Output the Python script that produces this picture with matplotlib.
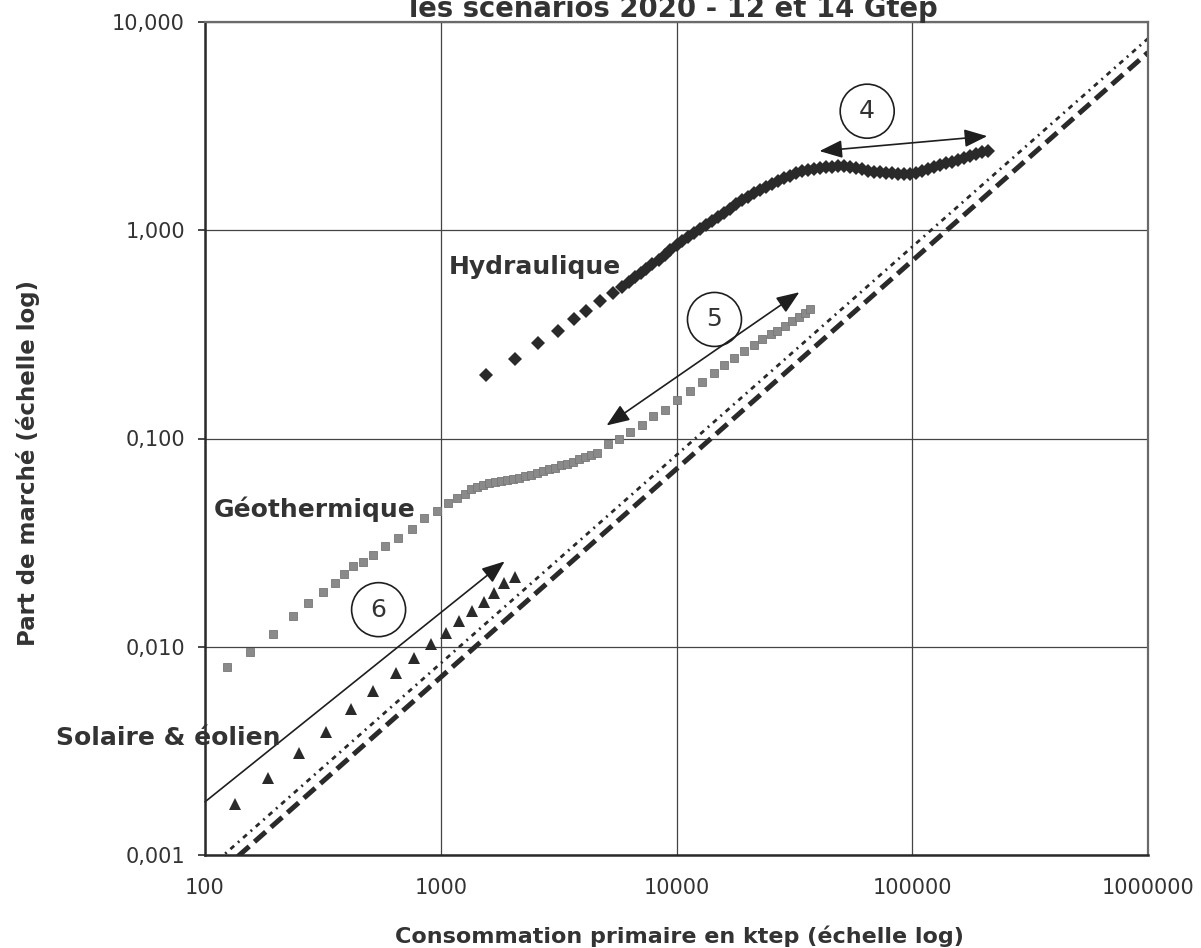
import numpy as np
import matplotlib
matplotlib.use("Agg")
import matplotlib.pyplot as plt
from matplotlib.patches import FancyArrowPatch

# ---------------- data ----------------
hydro_x = [1550, 2060, 2580, 3130, 3660, 4120, 4760, 5360, 5850,
           6260, 6640, 7040, 7460, 7910, 8390, 8900, 9430, 10000, 10600,
           11240, 11920, 12640, 13400, 14210, 15070, 15970, 16930, 17950, 19040,
           20190, 21400, 22690, 24070, 25520, 27050, 28680, 30420, 32250, 34190,
           36250, 38430, 40760, 43210, 45810, 48570, 51530, 54620, 57910, 61400,
           65130, 69020, 73180, 77590, 82300, 87250, 92500, 98060, 103970, 110250,
           116880, 123920, 131380, 139340, 147720, 156610, 166030, 176110, 186700,
           197940, 209880]
hydro_y = [0.201, 0.240, 0.286, 0.327, 0.373, 0.408, 0.456, 0.498, 0.532,
           0.562, 0.594, 0.621, 0.650, 0.686, 0.718, 0.758, 0.801, 0.847, 0.885,
           0.925, 0.967, 1.011, 1.057, 1.105, 1.155, 1.207, 1.262, 1.334, 1.394,
           1.441, 1.506, 1.557, 1.609, 1.664, 1.720, 1.778, 1.818, 1.879, 1.922,
           1.943, 1.965, 1.987, 2.009, 2.009, 2.031, 2.031, 2.009, 1.987, 1.965,
           1.922, 1.900, 1.900, 1.879, 1.879, 1.858, 1.858, 1.858, 1.879, 1.922,
           1.965, 2.009, 2.054, 2.100, 2.123, 2.170, 2.219, 2.269, 2.320,
           2.371, 2.398]

geo_x = [124, 155, 194, 236, 273, 316, 356, 388, 424, 467, 515, 579, 657, 754,
         847, 962, 1071, 1169, 1265,
         1340, 1421, 1507, 1598, 1693, 1796, 1904, 2019, 2141, 2269, 2407, 2552,
         2705, 2868, 3042, 3225, 3419, 3625, 3843, 4075, 4321, 4581,
         5101, 5679, 6323, 7107, 7913, 8897, 10000, 11354, 12887, 14488, 15973,
         17614, 19417, 21402, 23138, 25261, 26792, 28968, 31007, 33208, 35218, 36979]
geo_y = [0.0080, 0.00946, 0.01155, 0.0141, 0.0163, 0.0184, 0.0203, 0.0224, 0.0243,
         0.0256, 0.0277, 0.0303, 0.0334, 0.0369, 0.0417, 0.0451, 0.0492, 0.0520, 0.0544,
         0.0575, 0.0588, 0.0601, 0.0611, 0.0621, 0.0628, 0.0635, 0.0642, 0.0649, 0.0660,
         0.0671, 0.0686, 0.0702, 0.0710, 0.0725, 0.0742, 0.0754, 0.0775, 0.0793, 0.0811,
         0.0829, 0.0856,
         0.0936, 0.100, 0.107, 0.1155, 0.1276, 0.1378, 0.1523, 0.1683, 0.1859, 0.2054,
         0.2244, 0.2424, 0.2620, 0.2799, 0.2992, 0.316, 0.3268, 0.3455, 0.3652, 0.3817,
         0.3990, 0.4171]

sol_x = [134, 185, 250, 326, 416, 515, 645, 769, 907, 1050, 1192, 1353, 1521,
         1678, 1849, 2060]
sol_y = [0.00176, 0.00234, 0.00309, 0.00390, 0.00503, 0.00614, 0.00750, 0.00885,
         0.01033, 0.01167, 0.01333, 0.01489, 0.01644, 0.01819, 0.02033, 0.02174]

# reference lines: share (%) of a 12 Gtep and a 14 Gtep world consumption
ref_x = [100, 1000000]
ref_12 = [0.000833, 8.33]
ref_14 = [0.000714, 7.14]

# annotation arrows (data coordinates) and circled numbers
arrow6 = [(100, 0.00180), (1866, 0.0257)]
arrow5 = [(5050, 0.1155), (33200, 0.504)]
arrow4 = [(40400, 2.40), (208000, 2.83)]
circ_labels = ["4", "5", "6"]
circ_x = [64400, 14490, 545]
circ_y = [3.73, 0.373, 0.01507]

xticks = [100, 1000, 10000, 100000, 1000000]
xtick_labels = ["100", "1000", "10000", "100000", "1000000"]
yticks = [0.001, 0.01, 0.1, 1, 10]
ytick_labels = ["0,001", "0,010", "0,100", "1,000", "10,000"]

title = "les scénarios 2020 - 12 et 14 Gtep"
xlabel = "Consommation primaire en ktep (échelle log)"
ylabel = "Part de marché (échelle log)"

# ---------------- figure ----------------
W, H = 1201, 948
plt.rcParams['font.family'] = ['DejaVu Sans']
fig = plt.figure(figsize=(W / 100, H / 100), dpi=100)
fig.patch.set_facecolor('white')


def fx(px):
    return px / W


def fy(py):
    return 1 - py / H


ax = fig.add_axes([fx(205), fy(855), (1148 - 205) / W, (855 - 22) / H])
ax.set_xscale('log')
ax.set_yscale('log')
ax.set_xlim(100, 1000000)
ax.set_ylim(0.001, 10)

ink = '#2a2a2a'
txt = '#333333'

ax.set_xticks(xticks)
ax.set_xticklabels(xtick_labels)
ax.set_yticks(yticks)
ax.set_yticklabels(ytick_labels)
ax.minorticks_off()
ax.tick_params(axis='x', length=0, pad=16.5, labelsize=15, labelcolor=txt)
ax.tick_params(axis='y', length=5, width=1.2, pad=9.4, labelsize=15,
               labelcolor=txt, color=ink)
ax.grid(True, which='major', color='#444444', linewidth=0.9)
ax.set_axisbelow(True)
for side in ['left', 'bottom']:
    ax.spines[side].set_color(ink)
    ax.spines[side].set_linewidth(1.8)
for side in ['top', 'right']:
    ax.spines[side].set_color('#6a6a6a')
    ax.spines[side].set_linewidth(1.6)

# reference lines
ax.plot(ref_x, ref_12, color=ink, linewidth=2.0, dashes=[1.8, 1.8, 0.7, 1.8],
        solid_capstyle='butt', dash_capstyle='butt')
ax.plot(ref_x, ref_14, color=ink, linewidth=3.6, dashes=[3.0, 1.4],
        dash_capstyle='butt')

# series
ax.plot(geo_x, geo_y, linestyle='none', marker='s', markersize=5.6,
        color='#8a8a8a', markeredgecolor='#777777', markeredgewidth=0.6)
ax.plot(hydro_x, hydro_y, linestyle='none', marker='D', markersize=7,
        color=ink, markeredgewidth=0)
ax.plot(sol_x, sol_y, linestyle='none', marker='^', markersize=8,
        color=ink, markeredgewidth=0)

# arrows
def arrow(p, style):
    a = FancyArrowPatch(p[0], p[1], arrowstyle=style, mutation_scale=1,
                        shrinkA=0, shrinkB=0, lw=1.2, color='#1e1e1e',
                        transform=ax.transData, clip_on=False)
    ax.add_patch(a)

arrow(arrow6, '-|>,head_length=14,head_width=5.5')
arrow(arrow5, '<|-|>,head_length=14,head_width=5.5')
arrow(arrow4, '<|-|>,head_length=14,head_width=5.5')

for lab, cx, cy in zip(circ_labels, circ_x, circ_y):
    ax.text(cx, cy, lab, ha='center', va='center', fontsize=18, color=txt,
            bbox=dict(boxstyle='circle,pad=0.6', fc='none', ec='#1e1e1e', lw=1.2))

# series labels
fig.text(fx(449), fy(267), "Hydraulique", ha='left', va='center',
         fontsize=18, fontweight='bold', color=txt)
fig.text(fx(214), fy(509), "Géothermique", ha='left', va='center',
         fontsize=18, fontweight='bold', color=txt)
fig.text(fx(281), fy(738), "Solaire & éolien", ha='right', va='center',
         fontsize=18, fontweight='bold', color=txt)

# title (cut off by the top edge as in the reference) and axis labels
fig.text(fx(673), fy(17), title, ha='center', va='baseline', fontsize=19.8,
         fontweight='bold', color=txt)
fig.text(fx(679), fy(943), xlabel, ha='center', va='baseline', fontsize=16,
         fontweight='bold', color=txt)
fig.text(fx(35), fy(463), ylabel, ha='center', va='baseline', rotation=90,
         rotation_mode='anchor', fontsize=16.5, fontweight='bold', color=txt)

fig.savefig('out.png', dpi=100, facecolor='white')
